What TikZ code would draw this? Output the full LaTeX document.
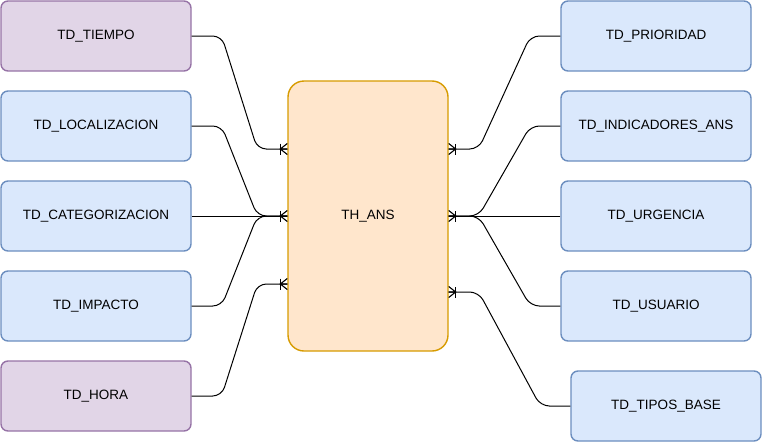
\documentclass[tikz,border=0pt]{standalone}
\usepackage{fontspec}
\setmainfont{Liberation Sans}
\usetikzlibrary{calc}
\definecolor{purfill}{HTML}{E1D5E7}
\definecolor{purdraw}{HTML}{9673A6}
\definecolor{bluefill}{HTML}{DAE8FC}
\definecolor{bluedraw}{HTML}{6C8EBF}
\definecolor{orfill}{HTML}{FFE6CC}
\definecolor{ordraw}{HTML}{D79B00}
\tikzset{
  tbl/.style={rectangle, rounded corners=7pt, line width=1.4pt, minimum width=190pt, minimum height=70pt,
    inner sep=0pt, font=\fontsize{13.5}{16}\selectfont, text=black},
  purbox/.style={tbl, fill=purfill, draw=purdraw},
  bluebox/.style={tbl, fill=bluefill, draw=bluedraw},
  factbox/.style={tbl, fill=orfill, draw=ordraw, rounded corners=16pt, minimum width=160pt, minimum height=270pt},
  rel/.style={draw=black, line width=1pt, rounded corners=9pt},
  crow/.pic={\draw[line width=1.1pt] (-7,-5.5) -- (-7,5.5);
             \draw[line width=1.1pt] (0,-5.5) -- (-7,0) -- (0,5.5) (-7,0) -- (0,0);}
}
\begin{document}
\begin{tikzpicture}[x=1pt,y=-1pt]
\useasboundingbox (0,0) rectangle (762,442);
% left tables
\node[purbox]  (tiempo) at (96,36)  {TD\_TIEMPO};
\node[bluebox] (loc)    at (96,126) {TD\_LOCALIZACION};
\node[bluebox] (cat)    at (96,216) {TD\_CATEGORIZACION};
\node[bluebox] (imp)    at (96,306) {TD\_IMPACTO};
\node[purbox]  (hora)   at (96,396) {TD\_HORA};
% fact table
\node[factbox] (ans) at (368,216) {TH\_ANS};
% right tables
\node[bluebox] (prio) at (656,36)  {TD\_PRIORIDAD};
\node[bluebox] (ind)  at (656,126) {TD\_INDICADORES\_ANS};
\node[bluebox] (urg)  at (656,216) {TD\_URGENCIA};
\node[bluebox] (usu)  at (656,306) {TD\_USUARIO};
\node[bluebox] (tip)  at (666,406) {TD\_TIPOS\_BASE};
% attachment points on the fact table
\coordinate (L1) at ($(ans.west)+(0,-67)$);
\coordinate (L2) at (ans.west);
\coordinate (L3) at ($(ans.west)+(0,68)$);
\coordinate (R1) at ($(ans.east)+(0,-67)$);
\coordinate (R2) at (ans.east);
\coordinate (R3) at ($(ans.east)+(0,76)$);
% left connectors
\draw[rel] (tiempo.east) -- ++(30,0) -- ([xshift=-30pt]L1) -- (L1);
\draw[rel] (loc.east) -- ++(30,0) -- ([xshift=-30pt]L2) -- (L2);
\draw[rel] (cat.east) -- (L2);
\draw[rel] (imp.east) -- ++(30,0) -- ([xshift=-30pt]L2) -- (L2);
\draw[rel] (hora.east) -- ++(30,0) -- ([xshift=-30pt]L3) -- (L3);
% right connectors
\draw[rel] (prio.west) -- ++(-30,0) -- ([xshift=30pt]R1) -- (R1);
\draw[rel] (ind.west) -- ++(-30,0) -- ([xshift=30pt]R2) -- (R2);
\draw[rel] (urg.west) -- (R2);
\draw[rel] (usu.west) -- ++(-30,0) -- ([xshift=30pt]R2) -- (R2);
\draw[rel] (tip.west) -- ++(-30,0) -- ([xshift=30pt]R3) -- (R3);
% crow's feet
\pic at (L1) {crow};
\pic at (L2) {crow};
\pic at (L3) {crow};
\pic[rotate=180] at (R1) {crow};
\pic[rotate=180] at (R2) {crow};
\pic[rotate=180] at (R3) {crow};
\end{tikzpicture}
\end{document}
